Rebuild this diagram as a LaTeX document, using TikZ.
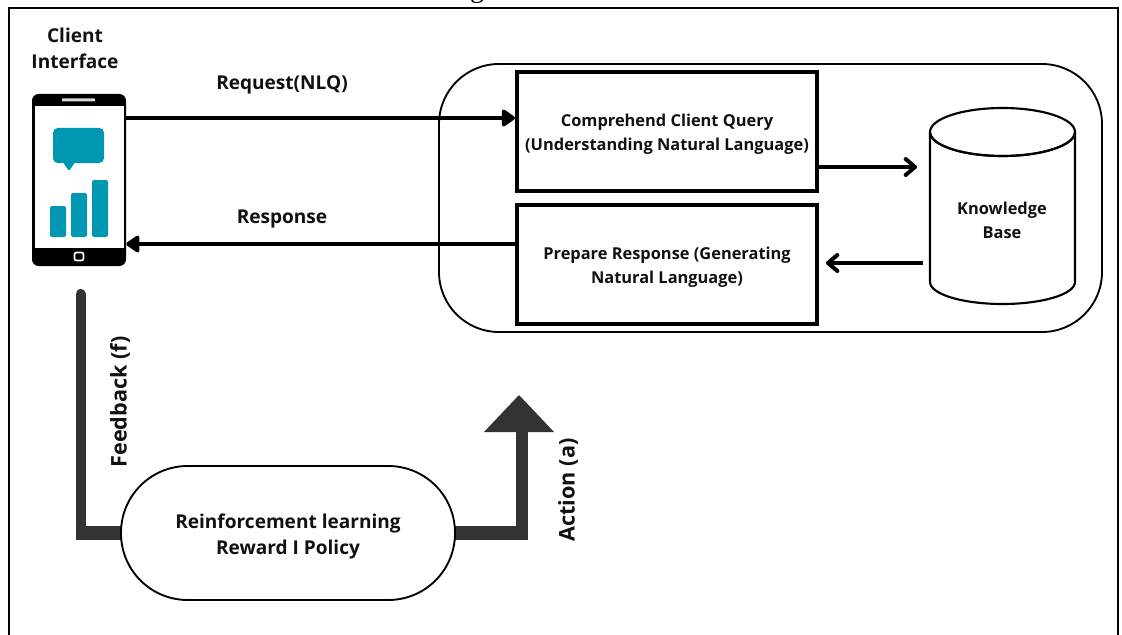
\documentclass[tikz,border=0pt]{standalone}
\usepackage{fontspec}
\setmainfont{Open Sans}
\usetikzlibrary{arrows.meta,calc}
\definecolor{teal}{HTML}{0097B2}
\definecolor{darkbar}{HTML}{333333}
\definecolor{ink}{HTML}{111111}
\tikzset{
  x=0.75pt,y=-0.75pt,
  lbl/.style={font=\fontsize{12.3pt}{18pt}\bfseries\selectfont,text=ink,align=center,inner sep=0pt},
  biglbl/.style={font=\fontsize{14.3pt}{19.5pt}\bfseries\selectfont,text=ink,align=center,inner sep=0pt},
  sidelbl/.style={font=\fontsize{16.2pt}{19.5pt}\bfseries\selectfont,text=ink,align=center,inner sep=0pt,rotate=90},
  box/.style={draw=black,line width=3pt,fill=white,minimum width=225pt,inner sep=0pt},
  thinbox/.style={draw=black,line width=1.4pt,fill=white,inner sep=0pt},
  conn/.style={draw=black,line width=3pt},
  solidhead/.style={-{Triangle[length=11pt,width=14.5pt,round]}},
  barbhead/.style={-{Straight Barb[length=7pt,width=12pt,line width=3pt,round]}},
  bar/.style={draw=darkbar,line cap=butt},
  barfill/.style={fill=teal,rounded corners=1.2pt},
}
\begin{document}
\begin{tikzpicture}
\useasboundingbox (0,0) rectangle (1122,635);
\fill[white] (0,0) rectangle (1122,635);
% page frame and cut-off caption letter
\draw[black,line width=1.6pt] (9,635) -- (9,8) -- (1118,8) -- (1118,635);
\newfontfamily\capfont{Liberation Serif}
\node[inner sep=0pt,anchor=base] (capg) at (477,-2) {\capfont\fontsize{21pt}{21pt}\selectfont g};
% container
\node[thinbox,minimum width=497.25pt,minimum height=201pt,rounded corners=45pt] (cont) at (770.5,198) {};
% phone
\node[fill=black,rounded corners=5pt,minimum width=70.5pt,minimum height=129pt,inner sep=0pt] (phone) at (79,180) {};
\fill[white] (34.7,106) rectangle (124,248);
\fill[white!85!black,rounded corners=.5pt] (62,98.5) rectangle (95,101.5);
\draw[white,line width=1.3pt,rounded corners=1.5pt] (74.5,252.5) rectangle (83.5,260.5);
\fill[teal,rounded corners=3.5pt] (53,128) rectangle (104,163);
\fill[teal,rounded corners=1pt] (62,161) -- (69,171) -- (76,161) -- cycle;
\fill[barfill] (50,206) rectangle (66,237);
\fill[barfill] (71,193) rectangle (87,237);
\fill[barfill] (92,180) rectangle (108,237);
% boxes
\node[box,minimum height=88.5pt] (comp) at (667,131.5) {};
\node[lbl] at (667,134) {Comprehend Client Query\\(Understanding Natural Language)};
\node[box,minimum height=89.5pt] (prep) at (667,264.5) {};
\node[lbl] at (667,267.5) {Prepare Response (Generating\\Natural Language)};
% cylinder
\draw[black,line width=1.6pt,fill=white] (930,132) -- (930,282) arc[start angle=180,end angle=0,x radius=72.5,y radius=22] -- (1075,132) arc[start angle=0,end angle=-360,x radius=72.5,y radius=24];
\draw[black,line width=1.6pt] (930,132) arc[start angle=180,end angle=0,x radius=72.5,y radius=24];
\node[lbl] (kb) at (1002,220) {Knowledge\\Base};
% connectors
\coordinate (reqy) at (0,118);
\coordinate (resy) at (0,244);
\coordinate (kbin) at (917,167);
\coordinate (kbout) at (923,263);
\coordinate (prepin) at (826,263);
\draw[conn,solidhead] (phone.east |- reqy) -- (comp.west |- reqy);
\draw[conn,solidhead] (prep.west |- resy) -- (phone.east |- resy);
\draw[conn,barbhead] (comp.east |- kbin) -- (kbin);
\draw[conn,barbhead] (kbout) -- (prepin);
% RL pill
\coordinate (fbtop) at (80.5,294);
\coordinate (acttip) at (519,395);
\draw[darkbar,line width=7.5pt,line cap=round] (fbtop) -- (80.5,526);
\draw[bar,line width=10.5pt] (75.5,533) -- (130,533);
\draw[bar,line width=10.5pt] (445,533) -- (528,533);
\draw[bar,line width=9pt] (522,533) -- (522,428);
\fill[darkbar] (acttip) -- (554,432) -- (484,432) -- cycle;
\node[thinbox,minimum width=250.5pt,minimum height=100.5pt,rounded corners=50pt] (rl) at (288,533) {};
\node[biglbl] at (288,536) {Reinforcement learning\\Reward I Policy};
% labels
\node[biglbl] at (75,48) {Client\\Interface};
\node[biglbl] at (282,85) {Request(NLQ)};
\node[biglbl] at (282,219) {Response};
\node[sidelbl] at (120,402) {Feedback (f)};
\node[sidelbl] at (568,490) {Action (a)};
\end{tikzpicture}
\end{document}
